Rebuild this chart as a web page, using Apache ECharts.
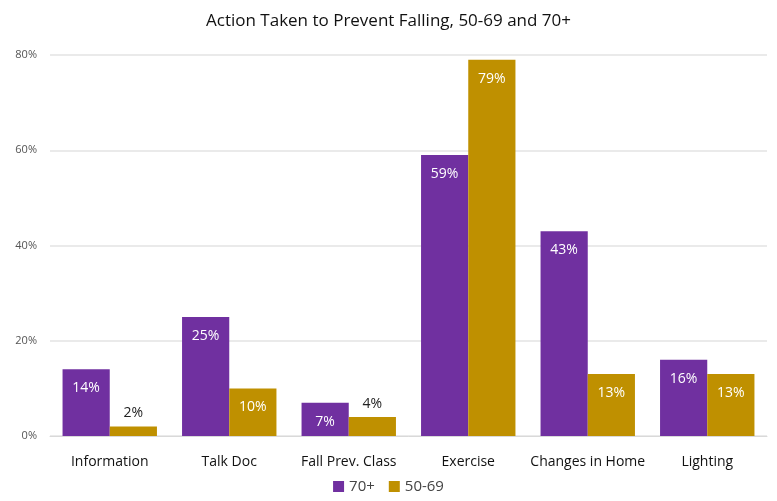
<!DOCTYPE html>
<html>
<head>
    <meta charset="UTF-8">
    <title>Action Taken to Prevent Falling</title>
    <script src="https://cdn.jsdelivr.net/npm/echarts@6/dist/echarts.min.js"></script>
    <style>
        body, html { margin: 0; padding: 0; height: 100%; width: 100%; background: #fff; }
        #chart { width: 777px; height: 501px; }
    </style>
</head>
<body>
<div id="chart"></div>
<script>
    var categories = ['Information', 'Talk Doc', 'Fall Prev. Class', 'Exercise', 'Changes in Home', 'Lighting'];
    var older = [14, 25, 7, 59, 43, 16];      // 70+
    var younger = [2, 10, 4, 79, 13, 13];     // 50-69
    var yTicks = [0, 20, 40, 60, 80];

    var FONT = '"Open Sans", "Noto Sans", sans-serif';

    // small bars get a dark label above the bar, others a white label inside
    function withLabels(values) {
        return values.map(function (v) {
            if (v < 5) {
                return {value: v, label: {position: 'top', color: '#222', distance: 6}};
            }
            return {value: v};
        });
    }

    var chart = echarts.init(document.getElementById('chart'), null, {renderer: 'canvas'});
    chart.setOption({
        animation: false,
        title: {
            text: 'Action Taken to Prevent Falling, 50-69 and 70+',
            left: 'center',
            top: 8,
            textStyle: {fontFamily: FONT, fontSize: 17, fontWeight: 'normal', color: '#111'}
        },
        legend: {
            bottom: 2,
            left: 'center',
            itemWidth: 11,
            itemHeight: 11,
            itemGap: 14,
            icon: 'rect',
            textStyle: {fontFamily: FONT, fontSize: 15, color: '#444'},
            data: ['70+', '50-69']
        },
        grid: {left: 50, right: 10, top: 55, bottom: 65},
        xAxis: {
            type: 'category',
            data: categories,
            axisTick: {show: false},
            axisLine: {lineStyle: {color: '#d9d9d9'}},
            axisLabel: {interval: 0, fontFamily: FONT, fontSize: 14, color: '#111', margin: 19}
        },
        yAxis: {
            type: 'value',
            min: yTicks[0],
            max: yTicks[yTicks.length - 1],
            interval: 20,
            axisLabel: {
                fontFamily: FONT, fontSize: 11, color: '#555', margin: 13,
                formatter: '{value}%'
            },
            splitLine: {lineStyle: {color: '#e3e3e3', width: 1.5}}
        },
        series: [
            {
                name: '70+',
                type: 'bar',
                data: withLabels(older),
                barGap: '0%',
                barCategoryGap: '21%',
                itemStyle: {color: '#7030A0'},
                label: {
                    show: true, position: 'insideTop', distance: 12,
                    color: '#fff', fontFamily: FONT, fontSize: 14,
                    formatter: '{c}%'
                }
            },
            {
                name: '50-69',
                type: 'bar',
                data: withLabels(younger),
                itemStyle: {color: '#BF9000'},
                label: {
                    show: true, position: 'insideTop', distance: 12,
                    color: '#fff', fontFamily: FONT, fontSize: 14,
                    formatter: '{c}%'
                }
            }
        ]
    });
</script>
</body>
</html>
